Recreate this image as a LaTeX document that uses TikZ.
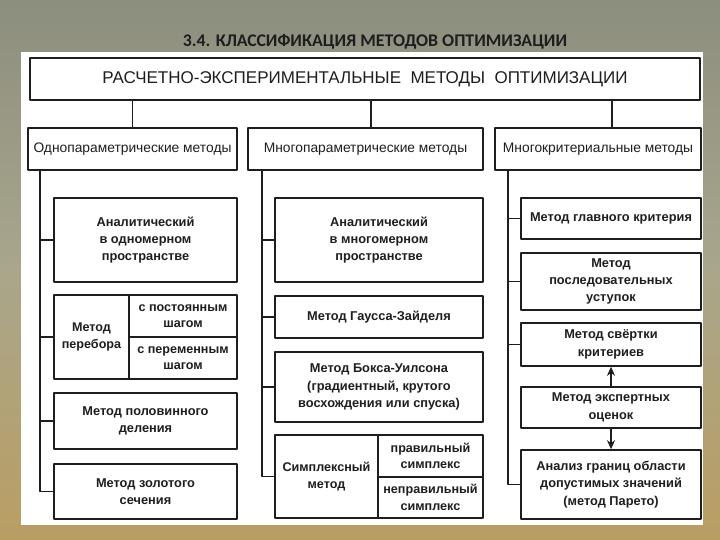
\documentclass[tikz,border=0pt]{standalone}
\usepackage{fontspec}
\setmainfont{Liberation Sans}
\newfontfamily\titlefont{Carlito}
\usetikzlibrary{arrows.meta}
\definecolor{ink}{HTML}{1E1E1E}
\definecolor{bgtop}{HTML}{8C8E7E}
\definecolor{bgmid}{HTML}{A9A68C}
\definecolor{bgbot}{HTML}{B99E62}
\newcommand\tightlines{\lineskiplimit=-6pt\relax}
\begin{document}
\begin{tikzpicture}[x=1pt,y=-1pt,line join=round,>={Stealth[length=9pt,width=8pt]},
	box/.style={draw=ink,line width=1.6pt,fill=white,text=ink,align=center,inner sep=1pt},
	rootbox/.style={box,font=\fontsize{17}{19}\selectfont},
	catbox/.style={box,font=\fontsize{13.8}{16}\selectfont,minimum height=42},
	methbox/.style={box,font=\bfseries\fontsize{12.8}{17.3}\selectfont\tightlines},
	cellbox/.style={box,font=\bfseries\fontsize{12.6}{16.5}\selectfont},
	link/.style={draw=ink,line width=1.6pt}]
	\useasboundingbox (0,0) rectangle (720,540);
	% background and sheet
	\shade[top color=bgtop,bottom color=bgbot,middle color=bgmid] (0,0) rectangle (720,540);
	\fill[white] (21,52) rectangle (703,525);
	\node[text=ink,font=\titlefont\bfseries\fontsize{17.8}{20}\selectfont] (ttl) at (375,42) {3.4. КЛАССИФИКАЦИЯ МЕТОДОВ ОПТИМИЗАЦИИ};
	% top level
	\node[rootbox,minimum width=670,minimum height=42] (root) at (365,79) {РАСЧЕТНО-ЭКСПЕРИМЕНТАЛЬНЫЕ\ \ МЕТОДЫ\ \ ОПТИМИЗАЦИИ};
	\node[catbox,minimum width=209] (c1) at (132.5,149) {Однопараметрические методы};
	\node[catbox,minimum width=235] (c2) at (365.5,149) {Многопараметрические методы};
	\node[catbox,minimum width=206] (c3) at (598,149) {Многокритериальные методы};
	\draw[link] (root.south -| c1.north) -- (c1.north);
	\draw[link] ([xshift=5.5]root.south -| c2.north) -- ([xshift=5.5]c2.north);
	\draw[link] ([xshift=14]root.south -| c3.north) -- ([xshift=14]c3.north);
	% one-parameter methods
	\node[methbox,minimum width=183,minimum height=84] (an1) at (145.5,240) {Аналитический\\в одномерном\\пространстве};
	\node[cellbox,minimum width=75,minimum height=84] (per) at (91.5,337) {Метод\\перебора};
	\node[cellbox,minimum width=108,minimum height=42] (perc) at (183,316) {с постоянным\\шагом};
	\node[cellbox,minimum width=108,minimum height=42] (perv) at (183,358) {с переменным\\шагом};
	\node[methbox,minimum width=183,minimum height=56] (half) at (145.5,421) {Метод половинного\\деления};
	\node[methbox,minimum width=183,minimum height=55] (gold) at (145.5,491.5) {Метод золотого\\сечения};
	\coordinate (s1) at ([xshift=13]c1.south west);
	\draw[link] (s1) |- (gold.west);
	\foreach \n in {an1,per,half}\draw[link] (s1 |- \n.west) -- (\n.west);
	% multi-parameter methods
	\node[methbox,minimum width=208,minimum height=84] (an2) at (379,240) {Аналитический\\в многомерном\\пространстве};
	\node[methbox,minimum width=208,minimum height=42] (gz) at (379,317) {Метод Гаусса-Зайделя};
	\node[methbox,minimum width=208,minimum height=70] (bw) at (379,387) {Метод Бокса-Уилсона\\(градиентный, крутого\\восхождения или спуска)};
	\node[cellbox,minimum width=103,minimum height=83] (smp) at (326.5,476.5) {Симплексный\\метод};
	\node[cellbox,minimum width=105,minimum height=42] (smpr) at (430.5,456) {правильный\\симплекс};
	\node[cellbox,minimum width=105,minimum height=41] (smpn) at (430.5,497.5) {неправильный\\симплекс};
	\coordinate (s2) at ([xshift=15]c2.south west);
	\draw[link] (s2) |- (smp.west);
	\foreach \n in {an2,gz,bw}\draw[link] (s2 |- \n.west) -- (\n.west);
	% multi-criteria methods
	\node[methbox,minimum width=180,minimum height=41] (m1) at (611,218.5) {Метод главного критерия};
	\node[methbox,minimum width=180,minimum height=57] (m2) at (611,281.5) {Метод\\последовательных\\уступок};
	\node[methbox,minimum width=180,minimum height=43] (m3) at (611,344.5) {Метод свёртки\\критериев};
	\node[methbox,minimum width=180,minimum height=41] (m4) at (611,407.5) {Метод экспертных\\оценок};
	\node[methbox,minimum width=180,minimum height=69] (m5) at (611,484.5) {Анализ границ области\\допустимых значений\\(метод Парето)};
	\coordinate (s3) at ([xshift=14]c3.south west);
	\draw[link] (s3) |- (m5.west);
	\foreach \n in {m1,m2,m3}\draw[link] (s3 |- \n.west) -- (\n.west);
	\draw[link,->] (m4) -- (m3);
	\draw[link,->] (m4) -- (m5);
\end{tikzpicture}
\end{document}
